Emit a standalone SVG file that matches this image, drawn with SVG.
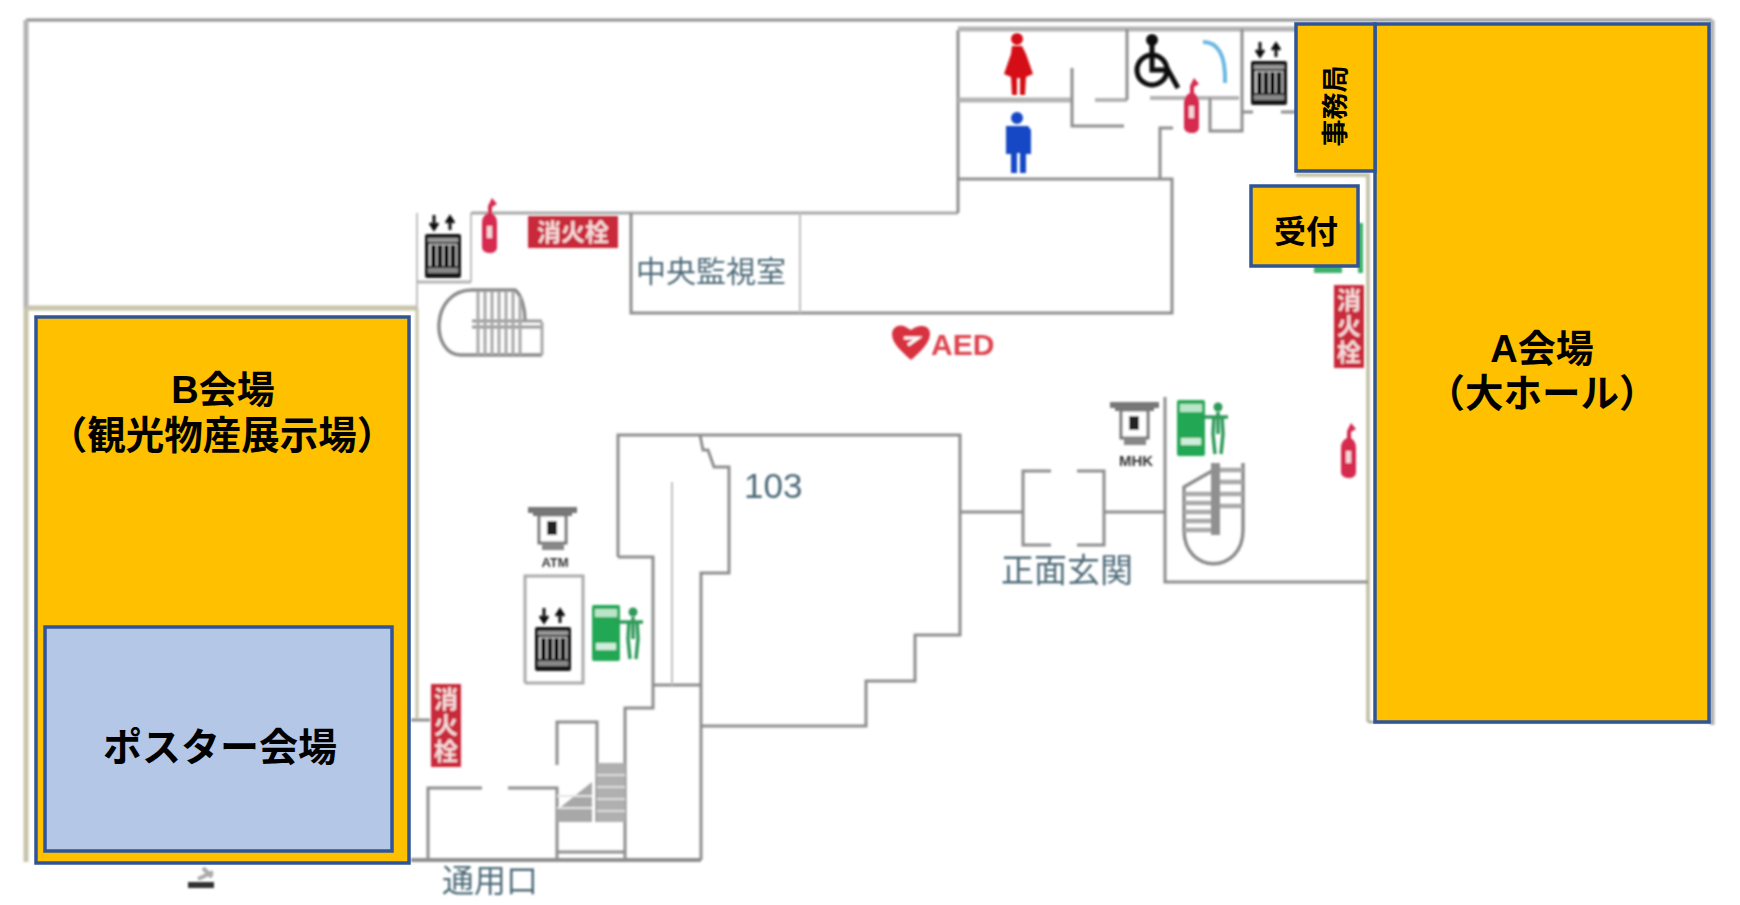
<svg xmlns="http://www.w3.org/2000/svg" width="1740" height="905" viewBox="0 0 1740 905">
<style>
.w{fill:none;stroke:#8e8e8e;stroke-width:3}
.l{fill:none;stroke:#c0c0c0;stroke-width:2}
.t{fill:none;stroke:#b4b4b4;stroke-width:5}
.b{fill:none;stroke:#c8c4aa;stroke-width:5}
.st{stroke:#8c8c8c;stroke-width:3.500;fill:none}
.lab{font-family:"Noto Sans CJK JP","Noto Sans",sans-serif;fill:#4d6a78}
.hy{font-family:"Noto Sans CJK JP",sans-serif;font-weight:700;font-size:24px;fill:#f6dcdc;text-anchor:middle}
.v{fill:#ffc000;stroke:#2f5597;stroke-width:3.5}
.vt{font-family:"Liberation Sans","Noto Sans CJK JP",sans-serif;font-weight:700;fill:#000;text-anchor:middle}
</style>
<defs>
<filter id="soft" x="-2%" y="-2%" width="104%" height="104%"><feGaussianBlur stdDeviation="0.8"/></filter>
<g id="ev">
<path d="M9 0v12M5 8l4 6 4-6M25 15V3M21 8l4-6 4 6" fill="none" stroke="#111" stroke-width="3"/>
<rect x="0" y="19" width="36" height="44" rx="2" fill="#141414"/>
<rect x="3" y="23" width="30" height="4" fill="#999"/>
<rect x="4" y="29" width="28" height="22" fill="#ccc"/>
<path d="M8.500 30v21M15 30v21M21.500 30v21M28 30v21" stroke="#111" stroke-width="5"/>
<rect x="3" y="53" width="30" height="5" fill="#888"/>
</g>
<g id="ext">
<path d="M13 0l5 6-5 3v6c4 3 5 6 5 10v24c0 4-3 6-7 6S3 53 3 49V25c0-5 2-8 6-10V8z" fill="#d62a50"/>
<rect x="8" y="28" width="5" height="12" fill="#f4d6dc"/>
</g>
<g id="exit">
<rect x="0" y="0" width="28" height="56" rx="2" fill="#22a755"/>
<rect x="3" y="4" width="22" height="8" fill="#b9e6c9"/>
<rect x="4" y="38" width="20" height="7" fill="#cdeeda"/>
<circle cx="41" cy="7" r="4.500" fill="#2f9a58"/>
<path d="M24 17H51M41 12V34M37 16L36 34L38 54M45 16L46 34L44 54" fill="none" stroke="#2f9a58" stroke-width="3.500"/>
</g>
<g id="atm">
<path d="M0 6V0h49v6h-5v3H5V6z" fill="#777"/>
<rect x="11" y="8" width="27" height="28" fill="#fff" stroke="#777" stroke-width="3"/>
<rect x="19" y="14" width="10" height="14" fill="#222"/>
<rect x="14" y="36" width="22" height="7" fill="#888"/>
</g>
<g id="hyd">
<rect x="0" y="0" width="30" height="83" fill="#c92a3a"/>
<text class="hy" x="15" y="24">消</text><text class="hy" x="15" y="50">火</text><text class="hy" x="15" y="76">栓</text>
</g>
</defs>
<rect width="1740" height="905" fill="#fff"/>

<g id="plan" filter="url(#soft)">
<g id="walls">
<path class="w" d="M26 20H1712"/>
<path class="t" d="M26 20V308"/>
<path class="b" d="M26 308H417M26 308V862"/>
<path class="b" d="M417 308V718" style="stroke-width:3"/>
<path class="l" d="M417 213V308M471 213V282"/>
<path class="t" d="M417 282H471" style="stroke-width:3"/>
<path class="w" d="M411 720H430"/>
<path class="l" d="M471 213H958" style="stroke:#a8a8a8;stroke-width:3"/>
<path class="w" d="M958 30V213M958 179H1172V313H631V213"/>
<path class="l" d="M800 213V313"/>
<path class="t" d="M958 29H1296"/>
<path class="t" d="M958 100H1071"/>
<path class="w" d="M1072 68V126H1124"/>
<path class="t" d="M1095 100H1127" style="stroke-width:4"/>
<path class="w" d="M1127 29V100"/>
<path class="t" d="M1150 98H1239" style="stroke-width:4"/>
<path class="w" d="M1242 29V131H1210V98"/>
<path class="w" d="M1243 112H1253M1281 112H1296"/>
<path class="w" d="M1160 179V128H1173"/>
<path class="b" d="M1296 175H1368V722" style="stroke-width:4"/>
<path class="t" d="M1712 20V725"/>
<path class="l" d="M1368 722H1712" style="stroke:#999"/>
<path class="w" d="M618 557V435H960V635H915V681H866V726H701"/>
<path class="w" d="M618 557H653V708H625V860"/>
<path class="w" d="M700 435L703 450H708L714 467H729V573H701V860"/>
<path class="w" d="M653 685H701"/>
<path class="l" d="M672 482V685"/>
<path class="w" d="M411 860H701" style="stroke-width:4"/>
<path class="w" d="M960 512H1023M1104 512H1165M1165 397V582H1368"/>
<path class="w" d="M1051 471H1023V545H1051M1077 471H1104V545H1077"/>
<path class="w" d="M428 860V788H482M508 788H557V860"/>
<path class="w" d="M557 765V722H597V822"/>
<path class="w" d="M557 852H625"/>
<path class="l" d="M525 683V576H583V683H525" style="stroke:#aaa;stroke-width:3"/>
</g>
<g id="stairs">
<path class="st" d="M472 290C430 290 430 355 461 355H542M472 290H515C522 295 525 310 525 320"/>
<path d="M472 321H542M472 327H542" stroke="#999" stroke-width="3"/>
<path d="M478 292V355M485 292V355M492 292V355M499 292V355M506 292V355M513 292V355M520 296V355M542 322V355" stroke="#a8a8a8" stroke-width="3"/>
<path class="st" d="M1212 471L1184 487V530C1184 575 1243 575 1243 530V463"/>
<rect x="1211" y="463" width="9" height="72" fill="#909090"/>
<path d="M1220 470H1243M1220 482H1243M1220 494H1243M1220 506H1243M1184 494H1211M1184 503H1211M1184 512H1211M1184 521H1211M1184 530H1211" stroke="#a8a8a8" stroke-width="4.500"/>
<rect x="597" y="763" width="28" height="59" fill="#b0b0b0"/>
<path d="M597 775H625M597 787H625M597 799H625M597 811H625" stroke="#ddd" stroke-width="2"/>
<path d="M557 810L592 782V822H557z" fill="#a8a8a8"/>
<path d="M557 796H592M557 808H592" stroke="#e4e4e4" stroke-width="2"/>
</g>
<g id="symbols">
<g id="female" fill="#d40f12"><circle cx="1017" cy="39" r="6"/><path d="M1012 46h10l4 8 7 20-7 3-1 18h-5V78h-3v17h-5l-1-18-7-3 7-20z"/></g>
<g id="male" fill="#1346c4"><circle cx="1017" cy="118" r="6"/><path d="M1006 126h22l3 4v24h-5v19h-6v-20h-3v20h-6v-19h-5v-24z"/></g>
<g id="wheelchair" fill="none" stroke="#0c0c0c" stroke-width="5"><circle cx="1152" cy="70" r="15"/><path d="M1152 45V70H1168L1178 88"/><circle cx="1152" cy="40" r="3.500" fill="#111"/></g>
<path id="bluearc" d="M1203 42C1218 42 1226 55 1225 83" fill="none" stroke="#6bb7e2" stroke-width="4"/>
<use href="#ev" x="425" y="215"/><use href="#ev" x="1251" y="42"/><use href="#ev" x="535" y="608"/>
<use href="#ext" x="479" y="198"/><use href="#ext" x="1181" y="78"/><use href="#ext" x="1338" y="423"/>
<rect x="528" y="216" width="90" height="32" fill="#c92a3a"/>
<text class="hy" x="573" y="241">消火栓</text>
<use href="#hyd" x="1334" y="285"/><use href="#hyd" x="431" y="684"/>
<use href="#exit" x="1177" y="400"/><use href="#exit" x="592" y="605"/>
<path d="M1314 266H1342V273H1314zM1358 223H1363V273H1358z" fill="#3cb06a"/>
<use href="#atm" x="1110" y="402"/><use href="#atm" x="528" y="507"/>
<text x="1136" y="466" font-family="Liberation Sans,sans-serif" font-weight="700" font-size="15" text-anchor="middle" fill="#333">MHK</text>
<text x="555" y="567" font-family="Liberation Sans,sans-serif" font-weight="700" font-size="13" text-anchor="middle" fill="#333">ATM</text>
<g id="aed"><path d="M911 360C900 350 892 343 892 334C892 327 899 324 904 326L911 330C916 325 930 323 930 334C930 343 921 351 911 360z" fill="#d8333f"/><path d="M908 345l10-7h-14" stroke="#fff" stroke-width="3" fill="none"/>
<text x="931" y="355" font-family="Liberation Sans,sans-serif" font-weight="700" font-size="30" fill="#de4450">AED</text></g>
<g id="smoking"><path d="M188 885H214" stroke="#333" stroke-width="6"/><path d="M198 879l15-7M203 868l9 9" stroke="#aaa" stroke-width="4" fill="none"/></g>
</g>
<g id="labels">
<text class="lab" x="636" y="282" font-size="30">中央監視室</text>
<text class="lab" x="1067" y="582" font-size="33" text-anchor="middle">正面玄関</text>
<text class="lab" x="490" y="892" font-size="32" text-anchor="middle">通用口</text>
<text x="744" y="498" font-family="Liberation Sans,sans-serif" font-size="35" fill="#4d6a78">103</text>
</g>
</g>

<g id="hall-b"><rect class="v" x="36" y="317" width="373" height="546"/>
<text class="vt" x="223" y="403" font-size="38">B会場</text>
<text class="vt" x="222" y="449" font-size="38.500">（観光物産展示場）</text></g>
<g id="poster"><rect x="45" y="627" width="347" height="224" fill="#b4c7e7" stroke="#2f5597" stroke-width="3.500"/>
<text class="vt" x="220" y="761" font-size="39">ポスター会場</text></g>
<g id="hall-a"><rect class="v" x="1375" y="24" width="334" height="698"/>
<text class="vt" x="1542" y="362" font-size="38">A会場</text>
<text class="vt" x="1542" y="407" font-size="38.500">（大ホール）</text></g>
<g id="office"><rect class="v" x="1296" y="24" width="79" height="147"/>
<text class="vt" transform="translate(1345 106) rotate(-90)" font-size="27">事務局</text></g>
<g id="reception"><rect class="v" x="1251" y="186" width="107" height="80"/>
<text class="vt" x="1306" y="243" font-size="32">受付</text></g>
</svg>
